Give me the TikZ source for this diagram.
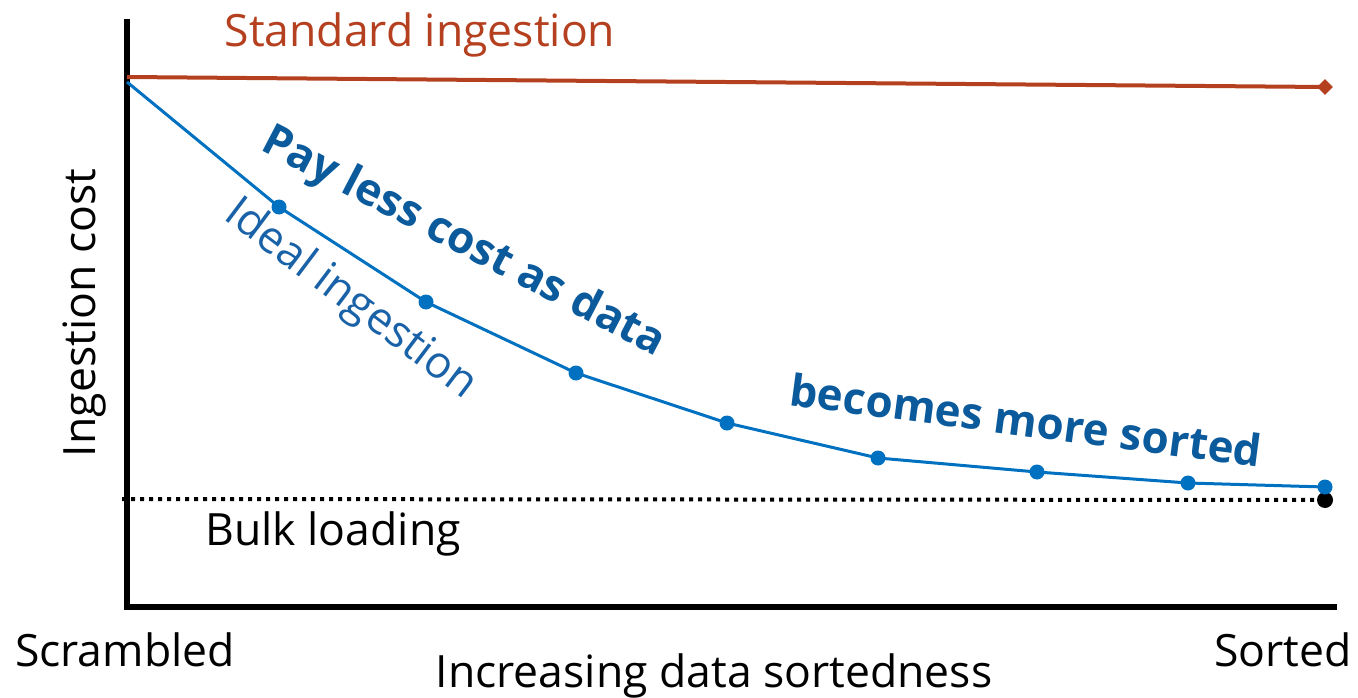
\documentclass[tikz,border=0pt]{standalone}
\usepackage{fontspec}
\setmainfont{Open Sans}
\usetikzlibrary{shapes.geometric}
\definecolor{rust}{HTML}{B5401F}
\definecolor{idealblue}{HTML}{0070C0}
\definecolor{darkblue}{HTML}{0A5A9C}
\definecolor{labelblue}{HTML}{1A62A8}
\begin{document}
\begin{tikzpicture}[x=1pt,y=-1pt,
  axis/.style={line width=6pt},
  std/.style={rust,line width=4pt},
  ideal/.style={idealblue,line width=3pt},
  pt/.style={circle,fill=idealblue,inner sep=0pt,minimum size=15pt},
  lbl/.style={font=\fontsize{44.5}{48}\selectfont,inner sep=0pt},
  bold/.style={font=\fontsize{44}{48}\selectfont\bfseries,inner sep=0pt,text=darkblue}]
\useasboundingbox (0,0) rectangle (1358,698);

% axes
\coordinate (top) at (127,22);
\coordinate (origin) at (127,607);
\coordinate (xend) at (1334,607);
\draw[axis,line cap=rect] (top) -- (origin) -- (xend);

% bulk loading baseline
\coordinate (bstart) at (122,499);
\node[circle,fill=black,inner sep=0pt,minimum size=16pt] (bend) at (1325,500) {};
\draw[line width=4pt,dash pattern=on 4pt off 5pt] (bstart) -- (bend.center);

% standard ingestion
\coordinate (s0) at (127,77);
\node[diamond,fill=rust,inner sep=0pt,minimum size=16pt] (s1) at (1325,87) {};
\draw[std] (s0) -- (s1.center);

% ideal ingestion
\coordinate (p0) at (127,82);
\node[pt] (p1) at (279,207) {};
\node[pt] (p2) at (426,302) {};
\node[pt] (p3) at (576,373) {};
\node[pt] (p4) at (727,423) {};
\node[pt] (p5) at (878,458) {};
\node[pt] (p6) at (1037,472) {};
\node[pt] (p7) at (1188,483) {};
\node[pt] (p8) at (1325,487) {};
\draw[ideal,line join=round] (p0) -- (p1.center) -- (p2.center) -- (p3.center) -- (p4.center)
  -- (p5.center) -- (p6.center) -- (p7.center) -- (p8.center);

% labels
\node[lbl,text=rust] (stdlbl) at (420,35) {Standard ingestion};
\node[lbl,rotate=90] (ylbl) at (85,313) {Ingestion cost};
\node[lbl] (bulk) at (333,534) {Bulk loading};
\node[lbl] (scr) at (125,650) {Scrambled};
\node[lbl] (srt) at (1283,650) {Sorted};
\node[lbl] (xlbl) at (714,676) {Increasing data sortedness};
\node[lbl,text=labelblue,rotate=-37] (idl) at (350,300) {Ideal ingestion};
\node[bold,rotate=-27.5] (pay) at (463,243) {Pay less cost as data};
\node[bold,rotate=-7.5] (sorted) at (1026,420) {becomes more sorted};
\end{tikzpicture}
\end{document}
